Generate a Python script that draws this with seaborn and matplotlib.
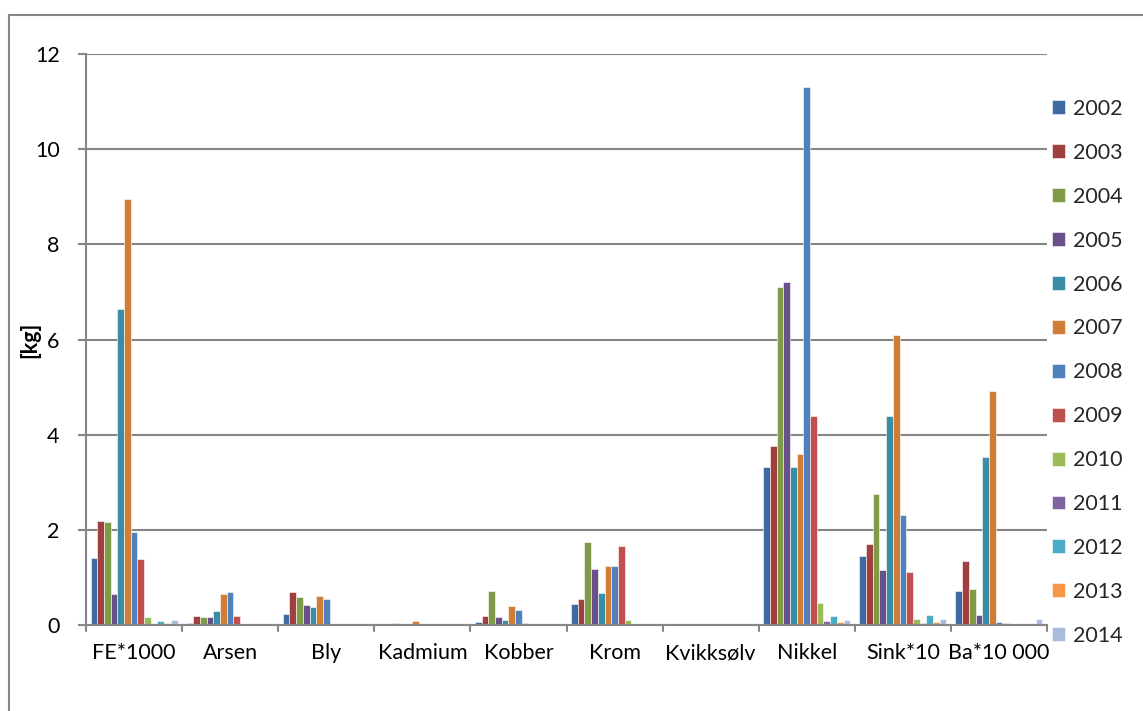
import matplotlib
matplotlib.use("Agg")
import matplotlib.pyplot as plt
from matplotlib.lines import Line2D
import seaborn as sns
import pandas as pd

categories = ["FE*1000", "Arsen", "Bly", "Kadmium", "Kobber", "Krom",
              "Kvikksølv", "Nikkel", "Sink*10", "Ba*10 000"]
years = ["2002", "2003", "2004", "2005", "2006", "2007", "2008",
         "2009", "2010", "2011", "2012", "2013", "2014"]

# One list per element, values per year 2002..2014 [kg]
fe_1000 = [1.41, 2.18, 2.17, 0.66, 6.65, 8.96, 1.96, 1.39, 0.16, 0.02, 0.08, 0.04, 0.10]
arsen = [0.04, 0.19, 0.16, 0.16, 0.29, 0.66, 0.69, 0.19, 0.02, 0, 0, 0, 0]
bly = [0.23, 0.69, 0.59, 0.43, 0.37, 0.60, 0.55, 0, 0, 0, 0, 0, 0]
kadmium = [0, 0, 0.04, 0, 0.03, 0.08, 0, 0, 0, 0, 0, 0, 0]
kobber = [0.06, 0.19, 0.71, 0.17, 0.10, 0.40, 0.31, 0.04, 0, 0, 0, 0, 0]
krom = [0.45, 0.54, 1.74, 1.18, 0.67, 1.25, 1.25, 1.67, 0.10, 0, 0, 0, 0]
kvikksolv = [0, 0, 0, 0, 0, 0, 0, 0, 0, 0, 0, 0, 0]
nikkel = [3.33, 3.76, 7.10, 7.21, 3.32, 3.59, 11.31, 4.39, 0.46, 0.08, 0.19, 0.07, 0.10]
sink_10 = [1.44, 1.71, 2.75, 1.16, 4.39, 6.09, 2.31, 1.11, 0.13, 0.04, 0.21, 0.06, 0.12]
ba_10000 = [0.71, 1.34, 0.76, 0.20, 3.54, 4.92, 0.06, 0.04, 0, 0, 0, 0, 0.12]

series = [fe_1000, arsen, bly, kadmium, kobber, krom, kvikksolv, nikkel, sink_10, ba_10000]

colors = ["#3F6AA0", "#9F3F3E", "#7F9B48", "#6A5088", "#3A8DA4", "#D07D38",
          "#4F81BD", "#C0504D", "#9BBB59", "#8064A2", "#4BACC6", "#F79646", "#A9BCDB"]

rows = []
for cat, vals in zip(categories, series):
    for yr, v in zip(years, vals):
        rows.append({"element": cat, "year": yr, "kg": v})
df = pd.DataFrame(rows)

sns.set_theme(style="white")
plt.rcParams["font.family"] = ["Lato", "DejaVu Sans"]
FS = 15.5

fig = plt.figure(figsize=(11.43, 7.11), dpi=100)
ax = fig.add_axes([86 / 1143, (711 - 625) / 711, (1047 - 86) / 1143, (625 - 54) / 711])

sns.barplot(data=df, x="element", y="kg", hue="year", order=categories,
            hue_order=years, palette=colors, width=0.905, gap=0,
            saturation=1, errorbar=None, ax=ax,
            edgecolor="white", linewidth=0.4)

ax.set_xlim(-0.5, len(categories) - 0.5)
ax.set_ylim(0, 12)
ax.set_yticks(range(0, 13, 2))
ax.yaxis.grid(True, color="#868686", linewidth=1.5)
ax.set_axisbelow(True)
ax.xaxis.grid(False)

for side in ["top", "right"]:
    ax.spines[side].set_visible(False)
for side in ["left", "bottom"]:
    ax.spines[side].set_color("#868686")
    ax.spines[side].set_linewidth(1.5)

# category tick marks sit on the boundaries between groups
ax.set_xticks([i for i in range(len(categories))])
ax.set_xticklabels(categories)
ax.tick_params(axis="x", length=0, pad=13, labelsize=FS, colors="black")
for b in [i - 0.5 for i in range(len(categories) + 1)]:
    ax.plot([b, b], [0, -0.13], color="#868686", linewidth=1.5, clip_on=False)

ax.tick_params(axis="y", direction="out", length=6, width=1.5, color="#868686",
               pad=13, labelsize=FS, labelcolor="black", left=True)

ax.set_xlabel("")
ax.set_ylabel("[kg]", fontsize=FS, fontweight="bold", color="black")
ax.yaxis.set_label_coords(-46 / 961, 0.5)

handles, labels = ax.get_legend_handles_labels()
ax.legend(handles, labels, loc="upper left", bbox_to_anchor=(1052 / 1143, (711 - 99) / 711),
          bbox_transform=fig.transFigure, frameon=False, fontsize=FS,
          handlelength=0.62, handleheight=0.62, handletextpad=0.35,
          labelspacing=1.11, borderaxespad=0, borderpad=0)

# outer chart frame
fig.add_artist(Line2D([9 / 1143, 9 / 1143], [0, (711 - 15) / 711],
                      transform=fig.transFigure, color="#868686", linewidth=1.5))
fig.add_artist(Line2D([9 / 1143, 1], [(711 - 15) / 711, (711 - 15) / 711],
                      transform=fig.transFigure, color="#868686", linewidth=1.5))

fig.savefig("out.png", dpi=100)
